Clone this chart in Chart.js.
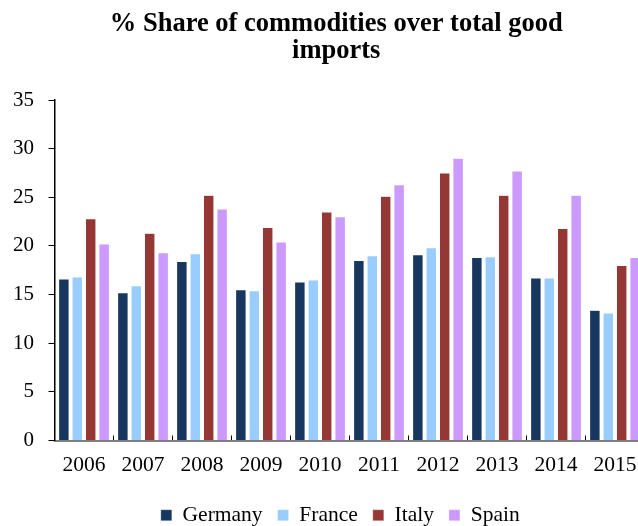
<!DOCTYPE html>
<html>
<head>
<meta charset="utf-8">
<script src="https://cdn.jsdelivr.net/npm/chart.js@4/dist/chart.umd.min.js"></script>
<style>
  html, body { margin: 0; padding: 0; background: #fff; overflow: hidden; }
  #wrap { width: 676px; height: 526px; }
</style>
</head>
<body>
<div id="wrap"><canvas id="chart"></canvas></div>
<script>
// tick labels / categories
const years = ['2006', '2007', '2008', '2009', '2010', '2011', '2012', '2013', '2014', '2015']

// % share values
const germany = [16.6, 15.2, 18.4, 15.5, 16.3, 18.5, 19.1, 18.8, 16.7, 13.4]
const france  = [16.8, 15.9, 19.2, 15.4, 16.5, 19.0, 19.8, 18.9, 16.7, 13.1]
const italy   = [22.8, 21.3, 25.2, 21.9, 23.5, 25.1, 27.5, 25.2, 21.8, 18.0]
const spain   = [20.2, 19.3, 23.8, 20.4, 23.0, 26.3, 29.0, 27.7, 25.2, 18.8]

const serif = "'Liberation Serif', 'Times New Roman', serif"

const mkSet = (label, data, color) => ({
  label: label,
  data: data,
  backgroundColor: color,
  borderColor: 'rgba(255,255,255,0.6)',
  borderWidth: 0.5,
  categoryPercentage: 0.91,
  barPercentage: 0.78
})

// the title and legend sit a bit right of the plot centre in the original
const shiftBoxes = {
  id: 'shiftBoxes',
  afterLayout: (c) => {
    c.titleBlock.left += 8
    c.titleBlock.right += 8
    c.legend.left += 12
    c.legend.right += 12
  }
}

const ctx = document.getElementById('chart')
const chart = new Chart(ctx, {
  type: 'bar',
  data: {
    labels: years,
    datasets: [
      mkSet('Germany', germany, '#17375E'),
      mkSet('France', france, '#99CCFF'),
      mkSet('Italy', italy, '#953735'),
      mkSet('Spain', spain, '#CC99FF')
    ]
  },
  plugins: [shiftBoxes],
  options: {
    responsive: true,
    maintainAspectRatio: false,
    animation: false,
    layout: { padding: { left: 12, right: 31.5, top: 11, bottom: -10 } },
    plugins: {
      title: {
        display: true,
        text: ['% Share of commodities over total good', 'imports'],
        color: '#000',
        font: { family: serif, size: 26.5, weight: 'bold', lineHeight: 1.0 },
        padding: { top: 0, bottom: 36 }
      },
      legend: {
        position: 'bottom',
        labels: {
          color: '#000',
          font: { family: serif, size: 21.5 },
          boxWidth: 11,
          boxHeight: 11,
          padding: 15
        }
      },
      tooltip: { enabled: false }
    },
    scales: {
      x: {
        grid: { display: true, drawOnChartArea: false, drawTicks: true, tickLength: -5, color: '#000', offset: true },
        border: { display: true, color: '#7f7f7f', width: 2 },
        ticks: { color: '#000', font: { family: serif, size: 21.5 }, padding: 17, maxRotation: 0 },
        afterFit: (s) => { s.height = 49 }
      },
      y: {
        min: 0,
        max: 35,
        grid: { display: true, drawOnChartArea: false, drawTicks: true, tickLength: 6, color: '#000' },
        border: { display: true, color: '#000', width: 1.5 },
        ticks: { stepSize: 5, color: '#000', font: { family: serif, size: 21 }, padding: 14.5 },
        afterFit: (s) => { s.width = 42.5 }
      }
    }
  }
})
</script>
</body>
</html>
